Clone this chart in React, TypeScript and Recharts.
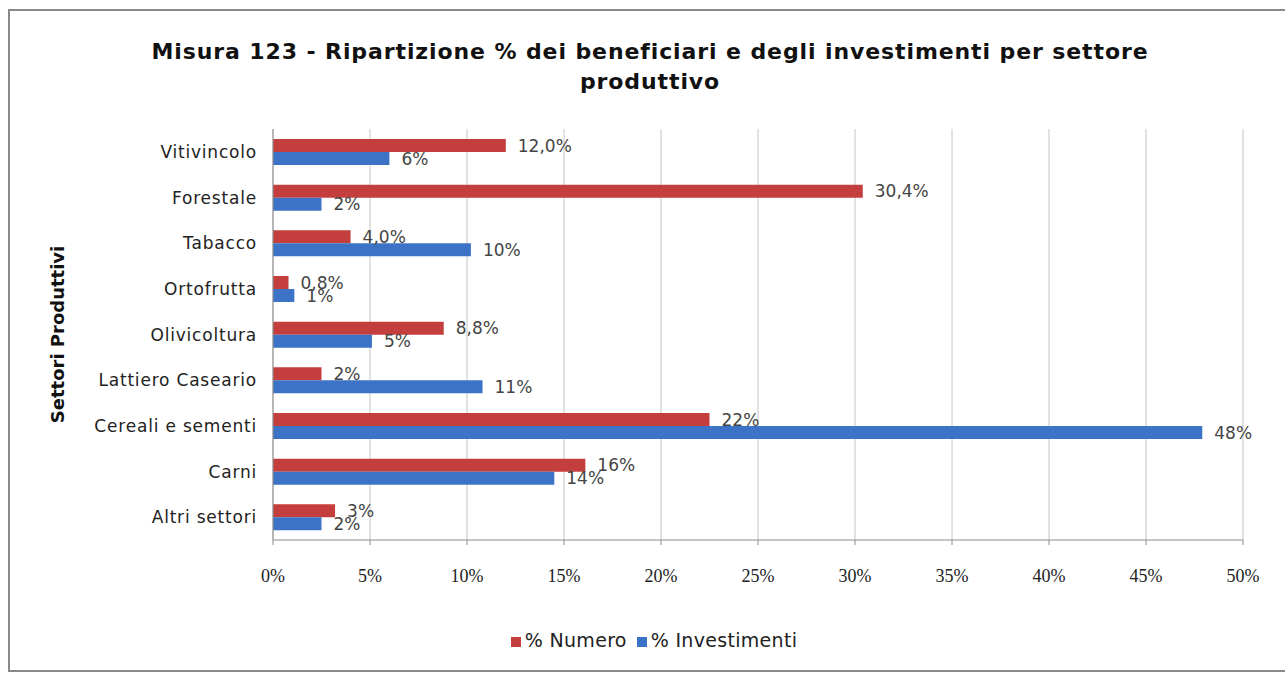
import React from "react";
import { BarChart, Bar, XAxis, YAxis, CartesianGrid, Legend, LabelList } from "recharts";

const categories = [
  "Vitivincolo",
  "Forestale",
  "Tabacco",
  "Ortofrutta",
  "Olivicoltura",
  "Lattiero Caseario",
  "Cereali e sementi",
  "Carni",
  "Altri settori",
];
const numeroValues = [12.0, 30.4, 4.0, 0.8, 8.8, 2.5, 22.5, 16.1, 3.2];
const investimentiValues = [6.0, 2.5, 10.2, 1.1, 5.1, 10.8, 47.9, 14.5, 2.5];
const numeroLabels = ["12,0%", "30,4%", "4,0%", "0,8%", "8,8%", "2%", "22%", "16%", "3%"];
const investimentiLabels = ["6%", "2%", "10%", "1%", "5%", "11%", "48%", "14%", "2%"];
const xTicks = [0, 5, 10, 15, 20, 25, 30, 35, 40, 45, 50];

const data = categories.map((c, i) => ({
  name: c,
  numero: numeroValues[i],
  investimenti: investimentiValues[i],
  numeroLabel: numeroLabels[i],
  investimentiLabel: investimentiLabels[i],
}));

const RED = "#C43E3D";
const BLUE = "#3D73C6";
const SANS = "'DejaVu Sans', Tahoma, sans-serif";

export default function App() {
  return (
    <div style={{ position: "absolute", left: 0, top: 0, width: 1285, height: 673, background: "#fff", overflow: "hidden" }}>
      <div
        style={{
          position: "absolute",
          left: 8,
          top: 9,
          width: 1300,
          height: 659,
          border: "2px solid #8a8a8a",
        }}
      />
      <div
        style={{
          position: "absolute",
          left: 0,
          top: 37,
          width: 1300,
          textAlign: "center",
          fontFamily: SANS,
          fontWeight: "bold",
          fontSize: 22,
          letterSpacing: 0.9,
          lineHeight: "30px",
          color: "#111",
        }}
      >
        Misura 123 - Ripartizione % dei beneficiari e degli investimenti per settore
        <br />
        produttivo
      </div>
      <div style={{ position: "absolute", left: 0, top: 0 }}>
        <BarChart
          width={1285}
          height={673}
          data={data}
          layout="vertical"
          margin={{ top: 129, right: 42, left: 20, bottom: 51 }}
          barSize={13}
          barGap={0}
        >
          <CartesianGrid horizontal={false} vertical={true} stroke="#c4c4c4" />
          <XAxis
            type="number"
            domain={[0, 50]}
            ticks={xTicks}
            tickFormatter={(v) => `${v}%`}
            axisLine={{ stroke: "#8c8c8c" }}
            tickLine={{ stroke: "#8c8c8c" }}
            tickSize={5}
            tickMargin={24}
            height={60}
            tick={{ fill: "#222", fontSize: 18, fontFamily: "'Liberation Serif', serif" }}
            interval={0}
          />
          <YAxis
            type="category"
            dataKey="name"
            width={253}
            axisLine={{ stroke: "#8c8c8c" }}
            tickLine={false}
            tickMargin={10}
            tick={{ fill: "#222", fontSize: 17, fontFamily: SANS, letterSpacing: 0.8 }}
            interval={0}
            label={{
              value: "Settori Produttivi",
              angle: -90,
              position: "insideLeft",
              offset: 38,
              style: { textAnchor: "middle", fontWeight: "bold", fontSize: 18, fontFamily: SANS, fill: "#111" },
            }}
          />
          <Legend
            verticalAlign="bottom"
            iconType="square"
            iconSize={10}
            itemSorter={(item: any) => (item.dataKey === "numero" ? 0 : 1)}
            wrapperStyle={{ top: 629, left: 0, width: 1318, fontFamily: SANS, fontSize: 19, color: "#222" }}
            formatter={(value) => <span style={{ color: "#222", letterSpacing: 0.3 }}>{value}</span>}
          />
          <Bar dataKey="numero" name="% Numero" fill={RED} isAnimationActive={false}>
            <LabelList dataKey="numeroLabel" position="right" offset={12} style={{ fill: "#444", fontSize: 17, fontFamily: SANS }} />
          </Bar>
          <Bar dataKey="investimenti" name="% Investimenti" fill={BLUE} isAnimationActive={false}>
            <LabelList dataKey="investimentiLabel" position="right" offset={12} style={{ fill: "#444", fontSize: 17, fontFamily: SANS }} />
          </Bar>
        </BarChart>
      </div>
    </div>
  );
}
